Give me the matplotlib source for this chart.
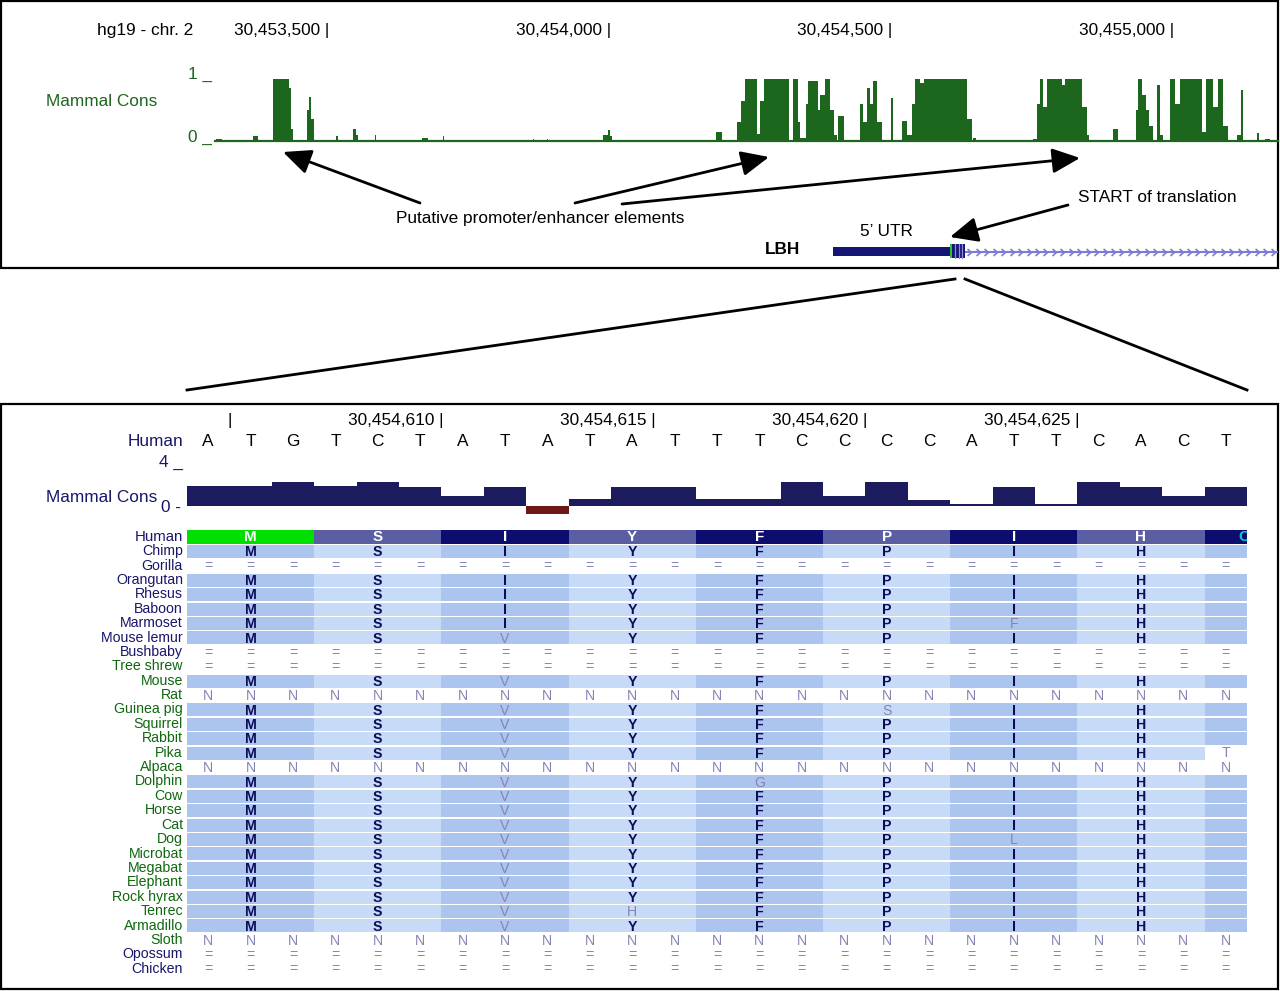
import matplotlib
matplotlib.use('Agg')
import matplotlib.pyplot as plt
from matplotlib.patches import Rectangle
from matplotlib.path import Path
from matplotlib.patches import ArrowStyle
import matplotlib.transforms as mtransforms

plt.rcParams['font.family'] = ['Liberation Sans', 'DejaVu Sans']

# ---------------- data ----------------
chrom_label = "hg19 - chr. 2"
top_ticks = [30453500, 30454000, 30454500, 30455000]
top_ref = 30453500
window_start, window_end = 30453299, 30455187
# top Mammal Cons track: segments as offsets (bp) from top_ref
top_cons_start = [-199, -133, -98, -69, -66, -37, -34, -30, 14, 44, 50, 83, 167, 204, 364,
                  389, 488, 497, 501, 689, 726, 734, 741, 762, 767, 774, 826, 835, 838, 849,
                  852, 870, 874, 883, 892, 899, 906, 945, 950, 957, 963, 968, 975, 1000, 1019,
                  1028, 1037, 1043, 1052, 1059, 1135, 1146, 1252, 1259, 1265, 1270, 1277, 1304, 1309, 1339,
                  1348, 1394, 1435, 1439, 1446, 1453, 1458, 1472, 1478, 1495, 1504, 1513, 1552, 1559, 1572,
                  1581, 1590, 1614, 1621, 1650, 1664]
top_cons_end = [-188, -124, -69, -66, -62, -34, -30, -25, 18, 50, 53, 85, 178, 206, 366,
                391, 497, 501, 504, 700, 734, 741, 762, 767, 774, 819, 835, 838, 849, 852,
                870, 874, 883, 892, 899, 904, 917, 950, 957, 963, 968, 975, 984, 1004, 1028,
                1037, 1043, 1052, 1059, 1135, 1144, 1151, 1259, 1265, 1270, 1277, 1304, 1309, 1339, 1348,
                1352, 1403, 1439, 1446, 1453, 1458, 1465, 1478, 1483, 1504, 1513, 1552, 1559, 1572, 1581,
                1590, 1598, 1621, 1625, 1653, 1673]
top_cons_value = [0.03, 0.08, 1.0, 0.85, 0.2, 0.5, 0.71, 0.35, 0.08, 0.2, 0.1, 0.1, 0.05, 0.08, 0.03,
                  0.03, 0.1, 0.18, 0.08, 0.15, 0.3, 0.65, 1.0, 0.12, 0.65, 1.0, 1.0, 0.3, 0.05, 0.6,
                  0.97, 0.5, 0.75, 1.0, 0.5, 0.1, 0.4, 0.6, 0.3, 0.85, 0.6, 0.97, 0.3, 0.7, 0.33,
                  0.1, 0.6, 1.0, 0.93, 1.0, 0.35, 0.05, 0.03, 0.6, 1.0, 0.55, 1.0, 0.9, 1.0, 0.55,
                  0.1, 0.2, 0.5, 1.0, 0.75, 0.5, 0.25, 0.9, 0.1, 1.0, 0.6, 1.0, 0.15, 1.0, 0.55,
                  1.0, 0.25, 0.1, 0.83, 0.13, 0.03]

gene_name = "LBH"
utr_start = 30454397
cds_start = 30454605
exon_end = 30454631

seq_start = 30454605
bottom_ticks = [30454605, 30454610, 30454615, 30454620, 30454625]
human_seq = "ATGTCTATATATTTCCCCATTCACT"
human_aa = "MSIYFPIH"
next_aa = "C"
bottom_cons = [2.07, 2.07, 2.52, 2.07, 2.52, 1.96, 1.04, 1.96, -0.8, 0.74, 1.96, 1.96, 0.74,
               0.74, 2.52, 1.04, 2.52, 0.6, 0.22, 1.96, 0.22, 2.52, 1.96, 1.04, 1.96]

species = ["Chimp", "Gorilla", "Orangutan", "Rhesus", "Baboon", "Marmoset", "Mouse lemur",
           "Bushbaby", "Tree shrew", "Mouse", "Rat", "Guinea pig", "Squirrel", "Rabbit", "Pika",
           "Alpaca", "Dolphin", "Cow", "Horse", "Cat", "Dog", "Microbat", "Megabat", "Elephant",
           "Rock hyrax", "Tenrec", "Armadillo", "Sloth", "Opossum", "Chicken"]
species_aa = ["MSIYFPIH", "=", "MSIYFPIH", "MSIYFPIH", "MSIYFPIH", "MSIYFPFH", "MSVYFPIH",
              "=", "=", "MSVYFPIH", "N", "MSVYFSIH", "MSVYFPIH", "MSVYFPIH", "MSVYFPIH",
              "N", "MSVYGPIH", "MSVYFPIH", "MSVYFPIH", "MSVYFPIH", "MSVYFPLH", "MSVYFPIH",
              "MSVYFPIH", "MSVYFPIH", "MSVYFPIH", "MSVHFPIH", "MSVYFPIH", "N", "=", "="]
species_last_base = {"Pika": "T"}
navy_label_species = {"Human", "Chimp", "Gorilla", "Orangutan", "Rhesus", "Baboon", "Marmoset",
                      "Mouse lemur", "Bushbaby", "Opossum", "Chicken"}

# ---------------- styles ----------------
W, H = 1280, 991
GREEN = '#1d661d'
NAVY = '#16166a'
LAB_GREEN = '#0e680e'
TRACK_NAVY = '#1b1b5e'
NEG_RED = '#6e1717'
DARK_CELL = '#abc5ee'
LIGHT_CELL = '#c7dbf9'
GRAY_LET = '#8585b5'
LET_NAVY = '#0c0c58'
FS = 12.4
ROW_FS = 10.2
AA_FS = 10.2
FILL_FS = 10.2

fig = plt.figure(figsize=(W / 100, H / 100), dpi=100)


def px_axes(left, top, right, bottom, z=1):
    ax = fig.add_axes([left / W, 1 - bottom / H, (right - left) / W, (bottom - top) / H])
    ax.set_zorder(z)
    ax.axis('off')
    return ax


canvas = px_axes(0, 0, W, H, z=0)
canvas.set_xlim(0, W)
canvas.set_ylim(H, 0)

# frames
canvas.add_patch(Rectangle((1, 1), 1277, 267, fill=False, ec='black', lw=1.6))
canvas.add_patch(Rectangle((1, 404), 1277, 585, fill=False, ec='black', lw=1.6))
# zoom lines
canvas.plot([955, 187], [279, 390], color='black', lw=2)
canvas.plot([965, 1247], [279, 390], color='black', lw=2)

# ---------------- top panel ----------------
ax_top = px_axes(215, 79, 1278, 141, z=2)
ax_top.set_xlim(window_start, window_end)
ax_top.set_ylim(0, 1)
ax_top.bar([top_ref + s for s in top_cons_start],
           top_cons_value,
           width=[e - s for s, e in zip(top_cons_start, top_cons_end)],
           align='edge', color=GREEN, linewidth=0)
ax_top.axhline(0, color=GREEN, lw=1.6, clip_on=False)

trans_top = mtransforms.blended_transform_factory(ax_top.transData, canvas.transData)
for t in top_ticks:
    canvas.text(t + 2, 30, f"{t:,} |", transform=trans_top, ha='right', va='center', fontsize=FS)
canvas.text(145, 30, chrom_label, ha='center', va='center', fontsize=FS)
canvas.text(157, 102, "Mammal Cons", ha='right', va='center', fontsize=FS, color=GREEN)
canvas.text(212, 74, "1 _", ha='right', va='center', fontsize=FS, color=GREEN)
canvas.text(212, 137, "0 _", ha='right', va='center', fontsize=FS, color=GREEN)

# gene model
ax_gene = px_axes(215, 240, 1278, 262, z=2)
ax_gene.set_xlim(window_start, window_end)
ax_gene.set_ylim(0, 1)
ax_gene.plot([exon_end, window_end], [0.45, 0.45], color='#7b7bd0', lw=1.5, solid_capstyle='butt')
chev = Path([(-0.5, 0.9), (0.5, 0.0), (-0.5, -0.9)], [Path.MOVETO, Path.LINETO, Path.LINETO])
chev_x = list(range(exon_end + 8, window_end - 2, 15))
ax_gene.plot(chev_x, [0.45] * len(chev_x), linestyle='none', marker=chev, markersize=5,
             markerfacecolor='none', markeredgecolor='#7b7bd0', markeredgewidth=1.2)
ax_gene.add_patch(Rectangle((utr_start, 0.27), cds_start - utr_start, 0.42, color='#151575', lw=0))
ax_gene.add_patch(Rectangle((cds_start, 0.16), exon_end - cds_start, 0.68, color='#151575', lw=0))
ax_gene.add_patch(Rectangle((cds_start, 0.16), 3, 0.68, color='#28c428', lw=0))
for k in range(1, 4):
    ax_gene.plot([cds_start + 3 + k * 6] * 2, [0.18, 0.82], color='#8d8de0', lw=0.9)

canvas.text(782, 250, gene_name, ha='center', va='center', fontsize=FS, fontweight='bold')
canvas.text(886, 231, "5\u2019 UTR", ha='center', va='center', fontsize=FS)
canvas.text(540, 219, "Putative promoter/enhancer elements", ha='center', va='center', fontsize=FS)
canvas.text(1157, 197, "START of translation", ha='center', va='center', fontsize=FS)

astyle = ArrowStyle('-|>', head_length=1.0, head_width=0.45)
arrows = [((420, 203), (283, 152)), ((575, 203), (769, 157)),
          ((622, 204), (1080, 158)), ((1068, 205), (950, 237))]
for (x0, y0), (x1, y1) in arrows:
    canvas.annotate('', xy=(x1, y1), xytext=(x0, y0),
                    arrowprops=dict(arrowstyle=astyle, lw=2, color='black',
                                    mutation_scale=17, shrinkA=0, shrinkB=0))

# ---------------- bottom panel ----------------
xlo, xhi = seq_start - 0.5, seq_start + len(human_seq) - 0.5
ax_bc = px_axes(187, 468, 1247, 515, z=2)
ax_bc.set_xlim(xlo, xhi)
ax_bc.set_ylim(-0.95, 4)
pos = [seq_start + i for i in range(len(bottom_cons))]
ax_bc.bar(pos, bottom_cons, width=1.0, align='center', linewidth=0,
          color=[TRACK_NAVY if v >= 0 else NEG_RED for v in bottom_cons])

trans_b = mtransforms.blended_transform_factory(ax_bc.transData, canvas.transData)
for t in bottom_ticks:
    lab = "|" if t == bottom_ticks[0] else f"{t:,} |"
    canvas.text(t + 0.55, 421, lab, transform=trans_b, ha='right', va='center', fontsize=FS)
for i, b in enumerate(human_seq):
    canvas.text(seq_start + i, 441, b, transform=trans_b, ha='center', va='center', fontsize=FS)
canvas.text(183, 441, "Human", ha='right', va='center', fontsize=FS, color=NAVY)
canvas.text(183, 462, "4 _", ha='right', va='center', fontsize=FS, color=NAVY)
canvas.text(157, 498, "Mammal Cons", ha='right', va='center', fontsize=FS, color=NAVY)
canvas.text(181, 508, "0 -", ha='right', va='center', fontsize=FS, color=NAVY)

# alignment
n_rows = 1 + len(species)
ax_al = px_axes(187, 529.5, 1247, 529.5 + n_rows * 14.4, z=2)
ax_al.set_xlim(xlo, xhi)
ax_al.set_ylim(n_rows, 0)
trans_lab = mtransforms.blended_transform_factory(canvas.transData, ax_al.transData)
n_codons = len(human_aa) + 1

# human row
for c in range(n_codons):
    x0 = seq_start + 3 * c - 0.5
    w = min(3, xhi - x0)
    if c == 0:
        col = '#00e000'
    elif c % 2 == 1:
        col = '#5c5ea4'
    else:
        col = '#0d0d70'
    ax_al.add_patch(Rectangle((x0, 0.0), w, 1.0, color=col, lw=0))
    if c < len(human_aa):
        ax_al.text(seq_start + 3 * c + 1, 0.55, human_aa[c], ha='center', va='center',
                   fontsize=AA_FS + 0.8, color='white', fontweight='bold')
ax_al.text(xhi - 0.2, 0.55, next_aa, ha='left', va='center', fontsize=AA_FS + 0.8,
           color='#10c8d0', fontweight='bold', clip_on=True)
canvas.text(183, 0.5, "Human", transform=trans_lab, ha='right', va='center', fontsize=ROW_FS + 0.6,
            color=NAVY)

for r, (sp, aa) in enumerate(zip(species, species_aa), start=1):
    lab_col = NAVY if sp in navy_label_species else LAB_GREEN
    canvas.text(183, r + 0.5, sp, transform=trans_lab, ha='right', va='center',
                fontsize=ROW_FS, color=lab_col)
    if aa in ("=", "N"):
        for i in range(len(human_seq)):
            ax_al.text(seq_start + i, r + 0.55, aa, ha='center', va='center',
                       fontsize=FILL_FS, color=GRAY_LET)
        continue
    for c in range(n_codons):
        x0 = seq_start + 3 * c - 0.5
        w = min(3, xhi - x0)
        if c == n_codons - 1 and sp in species_last_base:
            ax_al.text(seq_start + 3 * c, r + 0.55, species_last_base[sp], ha='center',
                       va='center', fontsize=FILL_FS, color=GRAY_LET)
            continue
        col = DARK_CELL if c % 2 == 0 else LIGHT_CELL
        ax_al.add_patch(Rectangle((x0, r + 0.08), w, 0.9, color=col, lw=0))
        if c < len(aa):
            same = aa[c] == human_aa[c]
            ax_al.text(seq_start + 3 * c + 1, r + 0.57, aa[c], ha='center', va='center',
                       fontsize=AA_FS, color=LET_NAVY if same else GRAY_LET,
                       fontweight='bold' if same else 'normal')

fig.savefig('out.png', dpi=100)
